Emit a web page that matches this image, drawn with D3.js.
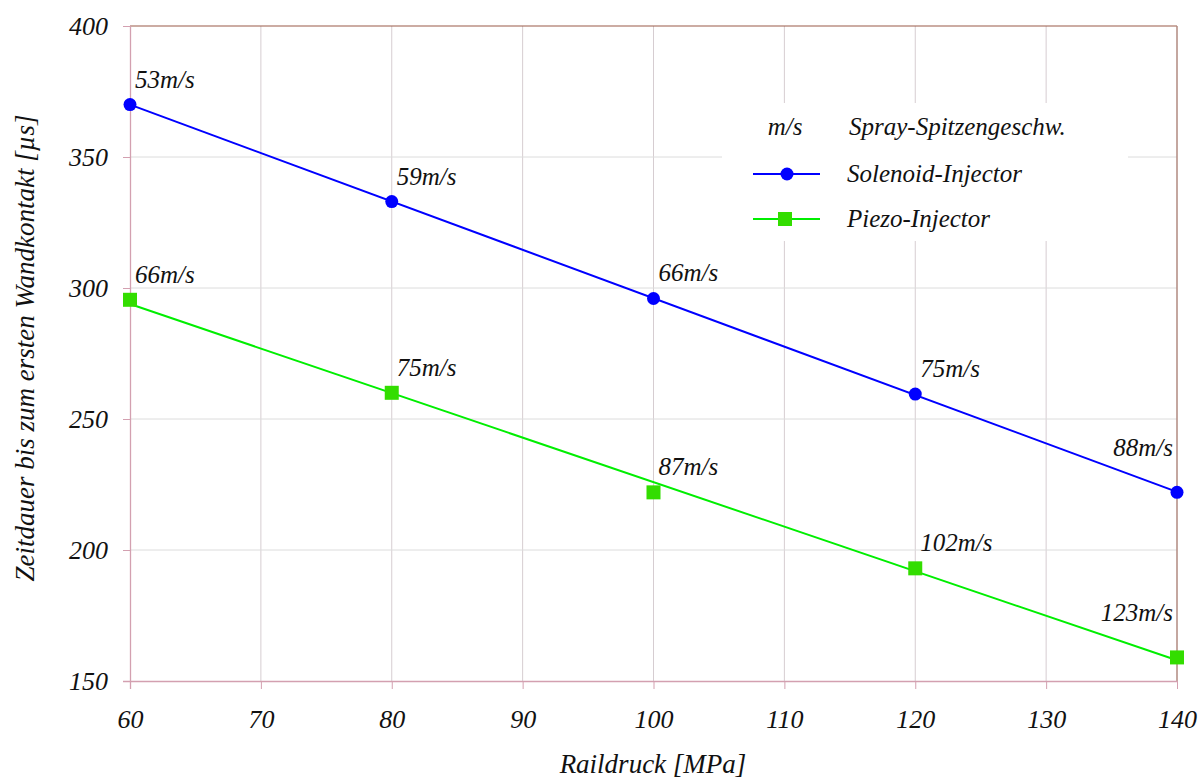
<!DOCTYPE html>
<html><head><meta charset="utf-8">
<script src="https://cdn.jsdelivr.net/npm/d3@7"></script>
</head><body style="margin:0"><svg id="c" width="1203" height="779"></svg>
<script>
const pressure = [60, 80, 100, 120, 140];
const solenoidTime = [370, 333, 296, 259.5, 222];
const piezoTime = [295.5, 260, 222, 193, 159];
const solenoidSpeed = ["53m/s", "59m/s", "66m/s", "75m/s", "88m/s"];
const piezoSpeed = ["66m/s", "75m/s", "87m/s", "102m/s", "123m/s"];
const xTicks = [60, 70, 80, 90, 100, 110, 120, 130, 140];
const yTicks = [150, 200, 250, 300, 350, 400];
const legendHeader = ["m/s", "Spray-Spitzengeschw."];
const seriesNames = ["Solenoid-Injector", "Piezo-Injector"];
const fonts = ["Liberation Serif", "Tinos", "Times New Roman", "Nimbus Roman", "FreeSerif"];

const svg = d3.select("#c");
const L = 130, R = 1177, T = 26, B = 681;
const x = d3.scaleLinear().domain([60, 140]).range([L, R]);
const y = d3.scaleLinear().domain([150, 400]).range([B, T]);
const fontAttr = fonts.map(f => `"${f}"`).join(",") + ",serif";

function txt(sel) {
  return sel.attr("font-family", fontAttr).attr("font-style", "italic").attr("fill", "#111");
}

// grid
const g = svg.append("g");
g.selectAll(".vg").data(xTicks.slice(1, -1)).join("line")
  .attr("x1", d => x(d)).attr("x2", d => x(d)).attr("y1", T).attr("y2", B)
  .attr("stroke", "#d6cdd1").attr("stroke-width", 1);
g.selectAll(".hg").data(yTicks.slice(1, -1)).join("line")
  .attr("x1", L).attr("x2", R).attr("y1", d => y(d)).attr("y2", d => y(d))
  .attr("stroke", "#dcdcdc").attr("stroke-width", 1);

// frame
svg.append("line").attr("x1", L).attr("x2", R).attr("y1", T).attr("y2", T).attr("stroke", "#9a5a48").attr("stroke-width", 1.2);
svg.append("line").attr("x1", R).attr("x2", R).attr("y1", T).attr("y2", B).attr("stroke", "#b08a80").attr("stroke-width", 1.5);

// axes
const xAxis = d3.axisBottom(x).tickValues(xTicks).tickSize(8).tickPadding(21).tickFormat(d3.format("d"));
const gx = svg.append("g").attr("transform", `translate(0,${B})`).call(xAxis).attr("font-family", null).attr("font-size", null);
gx.select(".domain").attr("stroke", "#d3a0b0").attr("stroke-width", 1.3).attr("d", `M${L - 7},0.5H${R}`);
gx.selectAll(".tick line").attr("stroke", "#d3a0b0");
txt(gx.selectAll("text")).attr("font-size", 26);

const yAxis = d3.axisLeft(y).tickValues(yTicks).tickSize(7).tickPadding(15);
const gy = svg.append("g").attr("transform", `translate(${L},0)`).call(yAxis).attr("font-family", null).attr("font-size", null);
gy.select(".domain").attr("stroke", "#d3a0b0").attr("stroke-width", 1.3).attr("d", `M0.5,${T}V${B + 8}`);
gy.selectAll(".tick line").attr("stroke", "#d3a0b0");
txt(gy.selectAll("text")).attr("font-size", 26);

// titles
txt(svg.append("text")).attr("x", 653).attr("y", 773).attr("text-anchor", "middle").attr("font-size", 27).text("Raildruck [MPa]");
txt(svg.append("text")).attr("transform", "translate(34,348) rotate(-90)").attr("text-anchor", "middle").attr("font-size", 27)
  .text("Zeitdauer bis zum ersten Wandkontakt [µs]");

// trend lines (least squares through the points)
function fit(xs, ys) {
  const mx = d3.mean(xs), my = d3.mean(ys);
  const s = d3.sum(xs, (v, i) => (v - mx) * (ys[i] - my)) / d3.sum(xs, v => (v - mx) ** 2);
  return v => my + s * (v - mx);
}
const series = [
  {vals: solenoidTime, labels: solenoidSpeed, line: "#0000ff", fill: "#0000ff", shape: "circle"},
  {vals: piezoTime, labels: piezoSpeed, line: "#00ee00", fill: "#33dd00", shape: "square"}
];

// legend background
svg.append("rect").attr("x", 722).attr("y", 103).attr("width", 406).attr("height", 138).attr("fill", "#fff");

series.forEach(s => {
  const f = fit(pressure, s.vals);
  const x0 = pressure[0], x1 = pressure[pressure.length - 1];
  svg.append("line").attr("x1", x(x0)).attr("y1", y(f(x0))).attr("x2", x(x1)).attr("y2", y(f(x1)))
    .attr("stroke", s.line).attr("stroke-width", 2);
});
series.forEach(s => {
  const pts = pressure.map((p, i) => ({p, v: s.vals[i], lab: s.labels[i], last: i === pressure.length - 1}));
  if (s.shape === "circle") {
    svg.selectAll(null).data(pts).join("circle").attr("cx", d => x(d.p)).attr("cy", d => y(d.v)).attr("r", 6.5).attr("fill", s.fill);
  } else {
    svg.selectAll(null).data(pts).join("rect").attr("x", d => x(d.p) - 7).attr("y", d => y(d.v) - 7)
      .attr("width", 14).attr("height", 14).attr("fill", s.fill);
  }
  txt(svg.selectAll(null).data(pts).join("text"))
    .attr("x", d => d.last ? x(d.p) - 4 : x(d.p) + 5)
    .attr("y", d => d.last ? y(d.v) - 36 : y(d.v) - 17)
    .attr("text-anchor", d => d.last ? "end" : "start")
    .attr("font-size", 25).text(d => d.lab);
});

// legend
txt(svg.append("text")).attr("x", 785).attr("y", 135).attr("text-anchor", "middle").attr("font-size", 25).text(legendHeader[0]);
txt(svg.append("text")).attr("x", 849).attr("y", 135).attr("font-size", 25).text(legendHeader[1]);
const ly = [174, 219];
series.forEach((s, i) => {
  svg.append("line").attr("x1", 753).attr("x2", 820).attr("y1", ly[i]).attr("y2", ly[i]).attr("stroke", s.line).attr("stroke-width", 2);
  if (s.shape === "circle") svg.append("circle").attr("cx", 787).attr("cy", ly[i]).attr("r", 6.5).attr("fill", s.fill);
  else svg.append("rect").attr("x", 778).attr("y", ly[i] - 7).attr("width", 14).attr("height", 14).attr("fill", s.fill);
  txt(svg.append("text")).attr("x", 847).attr("y", ly[i] + 8).attr("font-size", 25).text(seriesNames[i]);
});
</script></body></html>
